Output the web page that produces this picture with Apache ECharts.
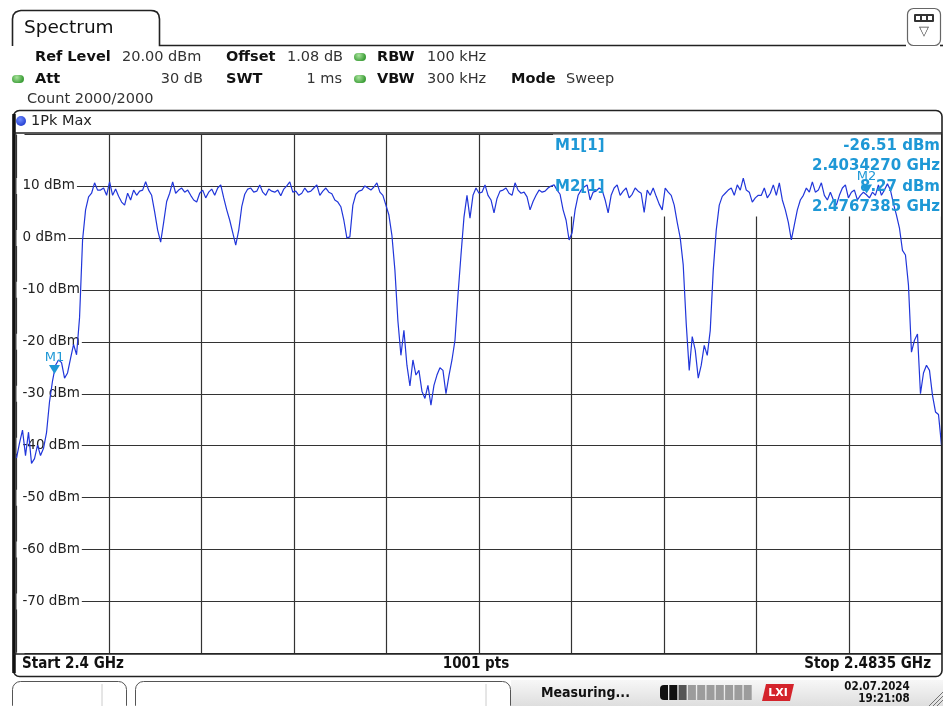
<!DOCTYPE html>
<html>
<head>
<meta charset="utf-8">
<script src="https://cdn.jsdelivr.net/npm/echarts@6/dist/echarts.min.js"></script>
<style>
  html, body { margin: 0; padding: 0; background: #fff; }
  #chart { width: 943px; height: 706px; }
</style>
</head>
<body>
<div id="chart"></div>
<script>
// Sweep settings
const START_GHZ = 2.4;
const STOP_GHZ = 2.4835;
const REF_LEVEL = 20;      // dBm, top of the display
const RANGE_DB = 100;      // 10 dB per division

// Peak-max trace (dBm), evenly spaced across the span
const traceDbm = [
  -42.4, -39.5, -37.0, -41.9, -37.4, -43.4, -42.5, -39.9, -41.9, -40.5,
  -37.5, -31.5, -27.5, -24.5, -23.5, -24.0, -27.0, -26.0, -23.2, -20.5,
  -22.5, -15.3, -0.4, 5.4, 7.9, 8.6, 10.6, 9.2, 9.2, 9.6,
  8.2, 10.8, 8.2, 9.4, 8.0, 6.9, 6.3, 8.6, 7.3, 9.2,
  8.2, 9.0, 9.2, 10.8, 9.2, 8.2, 5.0, 1.5, -0.8, 3.0,
  7.0, 8.6, 10.8, 8.6, 9.2, 9.6, 8.8, 9.2, 8.2, 7.3,
  6.9, 8.6, 9.2, 7.7, 8.8, 9.4, 8.2, 9.6, 10.2, 7.7,
  5.4, 3.4, 1.0, -1.4, 1.5, 6.0, 8.4, 9.4, 9.6, 8.8,
  9.0, 10.2, 8.8, 8.2, 9.4, 9.0, 8.8, 9.2, 8.1, 9.4,
  10.0, 10.8, 8.8, 9.0, 8.2, 8.6, 9.6, 8.8, 9.0, 9.6,
  10.2, 8.2, 9.0, 9.6, 8.8, 8.5, 7.3, 6.9, 6.0, 3.4,
  0.0, 0.2, 6.3, 8.4, 9.0, 9.2, 10.0, 9.6, 9.2, 9.8,
  10.6, 8.8, 8.2, 6.3, 4.4, 0.5, -6.2, -16.0, -22.6, -17.8,
  -24.5, -28.5, -23.5, -26.4, -25.5, -29.5, -30.9, -28.4, -32.2, -28.4,
  -26.4, -25.0, -25.5, -30.0, -26.5, -23.5, -19.7, -11.0, -3.3, 4.0,
  8.2, 3.8, 8.2, 9.6, 8.6, 8.8, 10.2, 8.2, 7.3, 4.8,
  7.6, 9.0, 9.2, 9.6, 8.6, 8.2, 10.6, 9.2, 8.6, 8.8,
  7.9, 5.4, 7.0, 8.2, 9.2, 8.8, 9.0, 9.6, 10.0, 10.2,
  9.2, 8.4, 5.4, 3.4, -0.4, 1.0, 5.4, 8.2, 9.2, 9.8,
  10.2, 7.3, 8.8, 9.0, 9.6, 9.2, 7.3, 4.8, 8.2, 9.6,
  10.2, 8.2, 9.0, 9.6, 7.7, 8.4, 9.6, 9.0, 8.6, 4.9,
  9.2, 8.2, 9.6, 8.0, 6.5, 5.4, 9.6, 8.8, 8.2, 6.3,
  3.0, 0.0, -5.2, -16.5, -25.5, -19.0, -21.6, -27.0, -24.5, -20.7,
  -22.6, -17.8, -6.2, 1.5, 6.3, 8.0, 8.6, 9.2, 9.6, 8.2,
  10.2, 9.2, 11.5, 9.2, 8.8, 6.9, 7.7, 8.2, 8.2, 9.6,
  7.7, 8.6, 10.2, 8.2, 10.6, 7.3, 5.4, 3.0, -0.4, 2.5,
  5.4, 7.3, 8.2, 9.6, 8.8, 10.8, 8.8, 9.2, 10.6, 8.2,
  7.3, 8.8, 7.3, 6.3, 8.2, 9.6, 10.2, 7.7, 8.8, 9.2,
  7.3, 8.2, 8.8, 8.3, 7.7, 8.8, 8.2, 10.2, 8.2, 9.2,
  10.4, 9.2, 6.6, 4.4, 1.9, -2.4, -3.3, -9.1, -22.0, -19.7,
  -18.5, -30.0, -26.0, -24.5, -25.5, -30.3, -33.5, -34.0, -39.9
];

// Markers
const markerNames = ['M1', 'M2'];
const markerGhz = [2.4034270, 2.4767385];
const markerDbm = [-26.51, 8.27];

// Setting rows: [text, bold, x]
const row1 = [['Ref Level', true, 35], ['20.00 dBm', false, 122], ['Offset', true, 226], ['1.08 dB', false, 287], ['RBW', true, 377], ['100 kHz', false, 427]];
const row2 = [['Att', true, 35], ['SWT', true, 226], ['VBW', true, 377], ['300 kHz', false, 427], ['Mode', true, 511], ['Sweep', false, 566]];

const SPAN_MHZ = (STOP_GHZ - START_GHZ) * 1000;
const N = traceDbm.length;
const traceData = traceDbm.map((v, i) => [i * SPAN_MHZ / (N - 1), v]);

const MK = '#1e98d6';
const FONT = 'DejaVu Sans';
const COND = 'DejaVu Sans Condensed';

const G = { left: 16.5, top: 134, width: 925, height: 519.5 };

function txt(x, y, s, o) {
  o = o || {};
  return {
    type: 'text', x: x, y: y, z: o.z || 5,
    style: {
      text: s, fill: o.fill || '#222', textAlign: o.align || 'left', textVerticalAlign: 'middle',
      font: (o.bold ? 'bold ' : '') + (o.size || 14.5) + 'px ' + (o.family || FONT)
    }
  };
}
function greenDot(x, y) {
  return {
    type: 'rect', z: 5, shape: { x: x - 6, y: y - 4, width: 12, height: 8, r: 4 },
    style: { fill: { type: 'radial', x: 0.4, y: 0.3, r: 0.8, colorStops: [{ offset: 0, color: '#a8e39c' }, { offset: 1, color: '#3f9f3a' }] } }
  };
}

const graphics = [];
// Spectrum tab and header rule
graphics.push({ type: 'polyline', z: 5, shape: { points: [[12.5, 46], [12.5, 19], [13.2, 15], [15.5, 12.2], [18.5, 10.9], [21, 10.5], [151, 10.5], [154, 10.9], [157, 12.2], [158.8, 15], [159.5, 19], [159.5, 45.5], [906, 45.5]] }, style: { stroke: '#222', lineWidth: 1.6, fill: null } });
graphics.push({ type: 'line', z: 5, shape: { x1: 940, y1: 45.5, x2: 943, y2: 45.5 }, style: { stroke: '#222', lineWidth: 1.6 } });
graphics.push(txt(24, 28, 'Spectrum', { size: 18.5, fill: '#111' }));
// top-right icon
graphics.push({ type: 'rect', z: 5, shape: { x: 907.5, y: 8.5, width: 33, height: 37, r: 6 }, style: { fill: '#fff', stroke: '#666', lineWidth: 1.2 } });
graphics.push({ type: 'rect', z: 6, shape: { x: 914, y: 14, width: 20, height: 8, r: 1 }, style: { fill: '#333' } });
[916, 922, 928].forEach(x => graphics.push({ type: 'rect', z: 7, shape: { x: x, y: 16, width: 4, height: 4 }, style: { fill: '#fff' } }));
graphics.push(txt(924, 32, '\u25BD', { size: 13, align: 'center', fill: '#444' }));

// settings rows
row1.forEach(r => graphics.push(txt(r[2], 57, r[0], { bold: r[1], fill: r[1] ? '#111' : '#333' })));
row2.forEach(r => graphics.push(txt(r[2], 79, r[0], { bold: r[1], fill: r[1] ? '#111' : '#333' })));
graphics.push(txt(203, 79, '30 dB', { align: 'right', fill: '#333' }));
graphics.push(txt(342, 79, '1 ms', { align: 'right', fill: '#333' }));
graphics.push(greenDot(360, 57));
graphics.push(greenDot(360, 79));
graphics.push(greenDot(18, 79));
graphics.push(txt(27, 99, 'Count 2000/2000', { fill: '#333' }));

// diagram frame
graphics.push({ type: 'rect', z: 5, shape: { x: 13.5, y: 110.5, width: 928.5, height: 566, r: 6 }, style: { fill: null, stroke: '#222', lineWidth: 1.6 } });
graphics.push({ type: 'line', z: 5, shape: { x1: 14, y1: 114, x2: 14, y2: 673 }, style: { stroke: '#111', lineWidth: 3.5 } });
graphics.push({ type: 'line', z: 5, shape: { x1: 13.5, y1: 133, x2: 942, y2: 133 }, style: { stroke: '#222', lineWidth: 1.6 } });
graphics.push({ type: 'line', z: 5, shape: { x1: 13.5, y1: 654, x2: 942, y2: 654 }, style: { stroke: '#222', lineWidth: 1.6 } });
graphics.push({ type: 'circle', z: 5, shape: { cx: 21, cy: 121, r: 5 }, style: { fill: { type: 'radial', x: 0.4, y: 0.35, r: 0.8, colorStops: [{ offset: 0, color: '#6f8cff' }, { offset: 1, color: '#1530c8' }] } } });
graphics.push(txt(31, 121.5, '1Pk Max', { fill: '#222' }));

// bottom strip of the diagram
graphics.push(txt(22, 664.5, 'Start ' + START_GHZ + ' GHz', { bold: true, family: COND, size: 15, fill: '#111' }));
graphics.push(txt(476, 664.5, '1001 pts', { bold: true, family: COND, size: 15, fill: '#111', align: 'center' }));
graphics.push(txt(931, 664.5, 'Stop ' + STOP_GHZ + ' GHz', { bold: true, family: COND, size: 15, fill: '#111', align: 'right' }));

// marker readout area (white, hides grid but not trace)
graphics.push({ type: 'rect', z: 1, shape: { x: 553, y: 134.5, width: 388, height: 82 }, style: { fill: '#fff' } });
markerNames.forEach((m, k) => {
  const y0 = 146 + k * 41;
  graphics.push(txt(555, y0, m + '[1]', { bold: true, fill: MK, size: 15 }));
  graphics.push(txt(940, y0, markerDbm[k].toFixed(2) + ' dBm', { bold: true, fill: MK, size: 15, align: 'right' }));
  graphics.push(txt(940, y0 + 20, markerGhz[k].toFixed(7) + ' GHz', { bold: true, fill: MK, size: 15, align: 'right' }));
});

// status bar
graphics.push({ type: 'rect', z: 5, shape: { x: 511, y: 680, width: 432, height: 26 }, style: { fill: { type: 'linear', x: 0, y: 0, x2: 0, y2: 1, colorStops: [{ offset: 0, color: '#f7f7f7' }, { offset: 1, color: '#dedede' }] } } });
graphics.push({ type: 'rect', z: 6, shape: { x: 12.5, y: 681.5, width: 114, height: 32, r: 8 }, style: { fill: '#fff', stroke: '#555', lineWidth: 1 } });
graphics.push({ type: 'line', z: 6, shape: { x1: 102, y1: 684, x2: 102, y2: 706 }, style: { stroke: '#ccc', lineWidth: 1 } });
graphics.push({ type: 'rect', z: 6, shape: { x: 135.5, y: 681.5, width: 375, height: 32, r: 8 }, style: { fill: '#fff', stroke: '#555', lineWidth: 1 } });
graphics.push({ type: 'line', z: 6, shape: { x1: 486, y1: 684, x2: 486, y2: 706 }, style: { stroke: '#ccc', lineWidth: 1 } });
graphics.push(txt(541, 693, 'Measuring...', { bold: true, family: COND, size: 14, fill: '#111', z: 7 }));
for (let s = 0; s < 10; s++) {
  const col = s < 2 ? '#111' : (s === 2 ? '#555' : '#9c9c9c');
  graphics.push({ type: 'rect', z: 6, shape: { x: 660 + s * 9.3, y: 685, width: 8, height: 15, r: s === 0 ? [4, 0, 0, 4] : 0 }, style: { fill: col } });
}
graphics.push({ type: 'polygon', z: 6, shape: { points: [[766, 684], [794, 684], [790, 701], [762, 701]] }, style: { fill: '#d4232b' } });
graphics.push(txt(778, 693, 'LXI', { bold: true, size: 11, fill: '#fff', align: 'center', z: 8 }));
graphics.push(txt(877, 687, '02.07.2024', { bold: true, family: COND, size: 11.5, fill: '#111', align: 'center', z: 7 }));
graphics.push(txt(884, 699.5, '19:21:08', { bold: true, family: COND, size: 11.5, fill: '#111', align: 'center', z: 7 }));
[0, 4, 8].forEach(d => graphics.push({ type: 'line', z: 6, shape: { x1: 943 - d - 6, y1: 706, x2: 943, y2: 706 - d - 6 }, style: { stroke: '#555', lineWidth: 0.8 } }));

const gridLine = { color: '#333', width: 1.2 };

const option = {
  animation: false,
  backgroundColor: '#fff',
  grid: { left: G.left, top: G.top, width: G.width, height: G.height, containLabel: false },
  xAxis: {
    type: 'value', min: 0, max: SPAN_MHZ, interval: SPAN_MHZ / 10,
    axisLine: { show: false }, axisTick: { show: false }, axisLabel: { show: false },
    splitLine: { show: true, lineStyle: gridLine }
  },
  yAxis: {
    type: 'value', min: REF_LEVEL - RANGE_DB, max: REF_LEVEL, interval: 10,
    axisLine: { show: false }, axisTick: { show: false },
    splitLine: { show: true, lineStyle: gridLine },
    axisLabel: {
      inside: true, margin: 0, color: '#222', fontFamily: FONT, fontSize: 13.5,
      backgroundColor: '#fff', padding: [1, 2, 1, 6],
      formatter: v => (v === REF_LEVEL || v === REF_LEVEL - RANGE_DB) ? '' : v + ' dBm'
    }
  },
  graphic: graphics,
  series: [{
    type: 'line', z: 3, data: traceData, showSymbol: false,
    lineStyle: { color: '#2136da', width: 1.2 },
    markPoint: {
      symbol: 'triangle', symbolRotate: 180, symbolSize: [11, 9], symbolOffset: [0, -6],
      itemStyle: { color: MK },
      label: { show: true, position: 'top', distance: 1, color: MK, fontFamily: FONT, fontSize: 13, formatter: p => p.name },
      data: markerNames.map((m, k) => ({ name: m, coord: [(markerGhz[k] - START_GHZ) * 1000, markerDbm[k]] }))
    }
  }]
};

const chart = echarts.init(document.getElementById('chart'), null, { renderer: 'canvas' });
chart.setOption(option);
</script>
</body>
</html>
